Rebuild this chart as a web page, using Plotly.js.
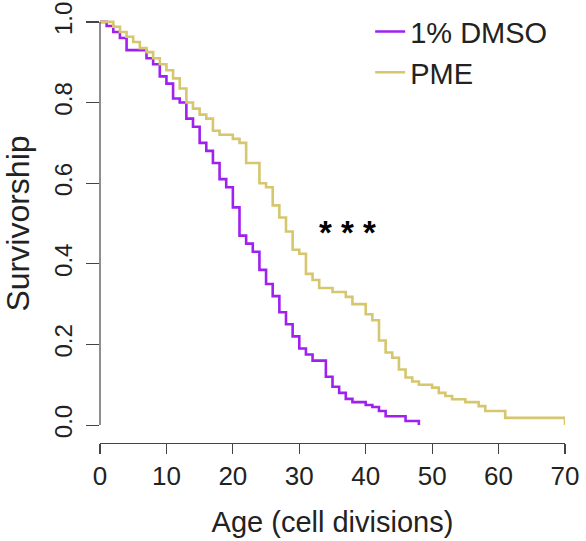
<!DOCTYPE html>
<html>
<head>
<meta charset="utf-8">
<script src="https://cdn.plot.ly/plotly-3.0.1.min.js"></script>
<style>
  html, body { margin: 0; padding: 0; background: #fff; }
  #chart { width: 586px; height: 541px; }
</style>
</head>
<body>
<div id="chart"></div>
<script>
// Kaplan-Meier style survivorship (step functions)
const dmsoAge  = [0,1,2,3,4,7,8,9,10,11,12,13,14,15,16,17,18,19,20,21,22,23,24,25,26,27,28,29,30,31,32,34,35,36,37,38,40,41,42,43,46,48];
const dmsoSurv = [1.0,0.99,0.975,0.96,0.93,0.91,0.895,0.865,0.847,0.81,0.80,0.76,0.74,0.70,0.68,0.65,0.61,0.59,0.54,0.47,0.45,0.43,0.385,0.35,0.32,0.28,0.25,0.22,0.19,0.175,0.16,0.12,0.095,0.08,0.065,0.057,0.05,0.045,0.035,0.022,0.01,0.0];

const pmeAge  = [0,2,3,4,5,6,7,8,9,10,11,12,13,14,15,16,17,18,20,21,22,24,25,26,27,28,29,30,31,32,33,35,37,38,40,41,42,43,44,45,46,47,48,50,51,52,53,55,57,58,61,70];
const pmeSurv = [1.0,0.988,0.975,0.963,0.95,0.935,0.925,0.91,0.895,0.88,0.86,0.835,0.80,0.785,0.77,0.76,0.73,0.72,0.71,0.70,0.65,0.60,0.59,0.545,0.515,0.48,0.435,0.425,0.375,0.36,0.34,0.33,0.318,0.30,0.275,0.26,0.21,0.18,0.167,0.138,0.118,0.108,0.10,0.093,0.08,0.072,0.064,0.057,0.047,0.035,0.018,0.0];

const seriesNames = ["1% DMSO", "PME"];
const xTicks = [0,10,20,30,40,50,60,70];
const yTicks = [0,0.2,0.4,0.6,0.8,1.0];
const yTickText = ["0.0","0.2","0.4","0.6","0.8","1.0"];
const signifText = "* * *";

const FONT = "Liberation Sans, Arial, Helvetica, sans-serif";
const purple = "#A020F0";
const gold = "#D6C66E";
const axisCol = "#444";

const traces = [
  { x: dmsoAge, y: dmsoSurv, name: seriesNames[0], type: "scatter", mode: "lines",
    line: { shape: "hv", color: purple, width: 2.6 }, cliponaxis: false, hoverinfo: "skip" },
  { x: pmeAge, y: pmeSurv, name: seriesNames[1], type: "scatter", mode: "lines",
    line: { shape: "hv", color: gold, width: 2.6 }, cliponaxis: false, hoverinfo: "skip" }
];

const layout = {
  width: 586, height: 541,
  margin: { l: 100, r: 21, t: 4, b: 98, pad: 0 },
  paper_bgcolor: "#fff", plot_bgcolor: "#fff",
  font: { family: FONT, color: "#222", size: 24 },
  showlegend: true,
  legend: {
    x: 0.581, y: 0.995, xanchor: "left", yanchor: "top",
    bgcolor: "rgba(0,0,0,0)", borderwidth: 0,
    font: { family: FONT, size: 29, color: "#222" },
    tracegroupgap: 0
  },
  xaxis: {
    range: [0, 70], tickvals: xTicks, ticks: "outside", ticklen: 10, tickwidth: 1.2,
    tickcolor: axisCol, showline: true, linecolor: axisCol, linewidth: 1.2,
    showgrid: false, zeroline: false, anchor: "y", ticklabelstandoff: 0,
    tickfont: { family: FONT, size: 26, color: "#222" },
    title: { text: "Age (cell divisions)", font: { family: FONT, size: 29, color: "#222" }, standoff: 21 }
  },
  yaxis: {
    range: [-0.0444, 1.0444], tickvals: yTicks, ticktext: yTickText,
    tickangle: -90, ticks: "outside", ticklen: 13, tickwidth: 1.2, tickcolor: axisCol,
    showline: false, showgrid: false, zeroline: false, ticklabelstandoff: 4,
    tickfont: { family: FONT, size: 24, color: "#222" },
    title: { text: "Survivorship", font: { family: FONT, size: 32, color: "#222" }, standoff: 13 }
  },
  shapes: [
    // y-axis line drawn only between first and last tick (R style)
    { type: "line", xref: "paper", yref: "y", x0: 0, x1: 0, y0: yTicks[0], y1: yTicks[yTicks.length - 1],
      line: { color: axisCol, width: 1.2 } }
  ],
  annotations: [
    { x: 37.3, y: 0.478, xref: "x", yref: "y", text: "<b>" + signifText + "</b>", showarrow: false,
      font: { family: FONT, size: 33, color: "#000" } }
  ]
};

Plotly.newPlot("chart", traces, layout, { staticPlot: true, displayModeBar: false });
</script>
</body>
</html>
